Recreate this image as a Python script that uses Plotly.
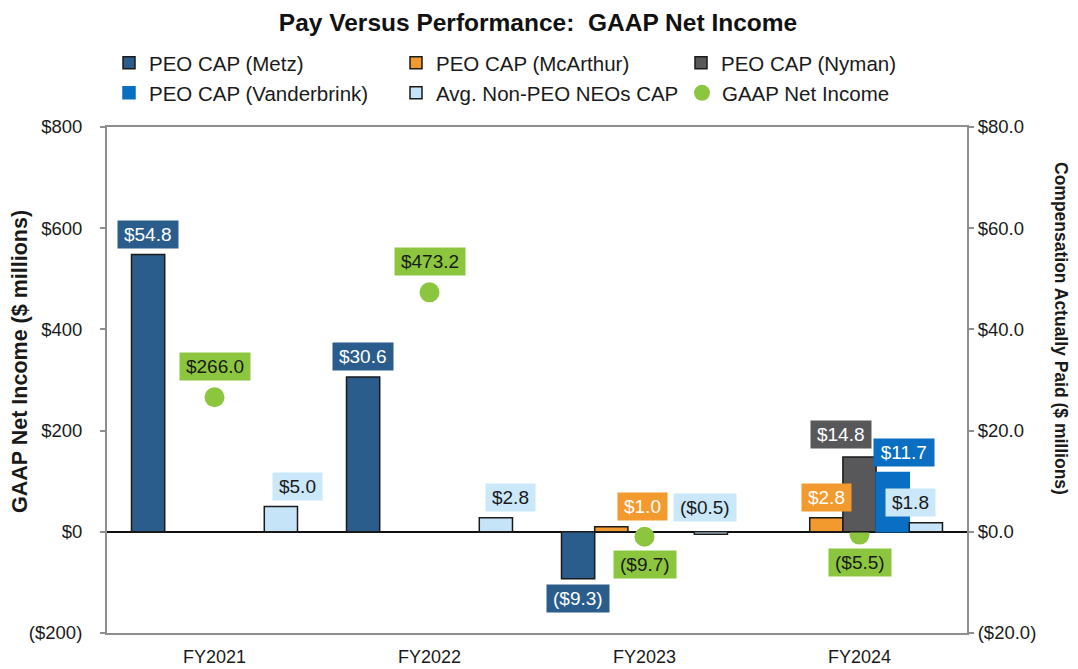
import plotly.graph_objects as go

# ---------------- data ----------------
categories = ["FY2021", "FY2022", "FY2023", "FY2024"]
cap_metz = [54.8, 30.6, -9.3, None]
cap_mcarthur = [None, None, 1.0, 2.8]
cap_nyman = [None, None, None, 14.8]
cap_vanderbrink = [None, None, None, 11.7]
cap_non_peo = [5.0, 2.8, -0.5, 1.8]
gaap_net_income = [266.0, 473.2, -9.7, -5.5]

left_tick_values = [-200, 0, 200, 400, 600, 800]
right_tick_values = [-20, 0, 20, 40, 60, 80]

# ---------------- styling ----------------
FONT = "Liberation Sans, Arial, sans-serif"
BODY = 8                      # default page margin around the plot div
W, H = 1078 - BODY, 669 - BODY
# plot area in page pixels
PX0, PX1, PY0, PY1 = 107, 967, 127, 633
ML, MR = PX0 - BODY, W - (PX1 - BODY)
MT, MB = PY0 - BODY, H - (PY1 - BODY)
PW, PH = PX1 - PX0, PY1 - PY0
BARGAP = 0.228
LABEL_SIZE = 19


def paper_x(px):
    return (px - PX0) / PW


def paper_y(py):
    return (PY1 - py) / PH


def money(v, decimals):
    s = f"${abs(v):,.{decimals}f}"
    return f"({s})" if v < 0 else s


def text_px(s, size):
    widths = {".": 0.278, "(": 0.333, ")": 0.333, ",": 0.278}
    return sum(widths.get(c, 0.556) for c in s) * size


bar_series = [
    dict(name="PEO CAP (Metz)", values=cap_metz, fill="#2A5D8C", line="#1A1A1A",
         label_bg="#2A5D8C", label_fg="white",
         shifts=[(0, 0), (0, 0), (0, 0), (0, 0)]),
    dict(name="PEO CAP (McArthur)", values=cap_mcarthur, fill="#F39A2E", line="#1A1A1A",
         label_bg="#F39A2E", label_fg="white",
         shifts=[(0, 0), (0, 0), (31, 0), (0, 0)]),
    dict(name="PEO CAP (Nyman)", values=cap_nyman, fill="#58585B", line="#1A1A1A",
         label_bg="#58585B", label_fg="white",
         shifts=[(0, 0), (0, 0), (0, 0), (-19, 2)]),
    dict(name="PEO CAP (Vanderbrink)", values=cap_vanderbrink, fill="#0A6FC2", line="#0A6FC2",
         label_bg="#0A6FC2", label_fg="white",
         shifts=[(0, 0), (0, 0), (0, 0), (11, 0)]),
    dict(name="Avg. Non-PEO NEOs CAP", values=cap_non_peo, fill="#C6E4F8", line="#1A1A1A",
         label_bg="#CBE7FA", label_fg="#1A1A1A",
         shifts=[(17, 0), (15, 0), (-6, 0), (-15, 0)]),
]
gaap_style = dict(color="#8CC63F", label_bg="#8CC63F", label_fg="#1A1A1A")

fig = go.Figure()

legend_pos = [  # (text start, row centre) of each legend entry, page pixels
    (147, 63), (434, 63), (719, 63),
    (147, 93), (434, 93), (720, 93),
]
legend_keys = ["legend", "legend2", "legend3", "legend4", "legend5", "legend6"]

for k, s in enumerate(bar_series):
    fig.add_trace(go.Bar(
        x=categories, y=s["values"], name=s["name"], yaxis="y2",
        marker=dict(color=s["fill"], line=dict(color=s["line"], width=1.5)),
        legend=legend_keys[k], hoverinfo="name+y",
    ))

fig.add_trace(go.Scatter(
    x=categories, y=gaap_net_income, name="GAAP Net Income", mode="markers",
    marker=dict(color=gaap_style["color"], size=20), yaxis="y",
    legend=legend_keys[5],
))

# ---------------- data labels ----------------
n = len(bar_series)
group_w = 1 - BARGAP
slot_w = group_w / n
annotations = []
for k, s in enumerate(bar_series):
    offset = -group_w / 2 + (k + 0.5) * slot_w
    for i, v in enumerate(s["values"]):
        if v is None:
            continue
        txt = money(v, 1)
        dx, dy = s["shifts"][i]
        if s["name"].startswith("Avg") and v < 0 and abs(v) < 1:
            yshift = 27
        else:
            yshift = 20 if v >= 0 else -20
        annotations.append(dict(
            x=i + offset, y=v, xref="x", yref="y2", text=txt, showarrow=False,
            xshift=dx, yshift=yshift + dy,
            bgcolor=s["label_bg"], font=dict(color=s["label_fg"], size=LABEL_SIZE, family=FONT),
            width=text_px(txt, LABEL_SIZE) + 12, height=27, borderpad=0,
        ))
for i, v in enumerate(gaap_net_income):
    txt = money(v, 1)
    annotations.append(dict(
        x=i, y=v, xref="x", yref="y", text=txt, showarrow=False,
        yshift=31 if v >= 0 else -28,
        bgcolor=gaap_style["label_bg"], font=dict(color=gaap_style["label_fg"], size=LABEL_SIZE, family=FONT),
        width=text_px(txt, LABEL_SIZE) + 12, height=27, borderpad=0,
    ))

# axis titles
annotations.append(dict(
    text="GAAP Net Income ($ millions)", xref="paper", yref="paper",
    x=paper_x(20), y=paper_y(362), xanchor="center", yanchor="middle",
    showarrow=False, textangle=-90,
    font=dict(size=21.5, family=FONT, color="#1A1A1A", weight="bold"),
))
annotations.append(dict(
    text="Compensation Actually Paid ($ millions)", xref="paper", yref="paper",
    x=paper_x(1061), y=paper_y(328), xanchor="center", yanchor="middle",
    showarrow=False, textangle=90,
    font=dict(size=17.5, family=FONT, color="#1A1A1A", weight="bold"),
))

layout_legends = {}
for key, (tx, ty) in zip(legend_keys, legend_pos):
    layout_legends[key] = dict(
        x=paper_x(tx - 38), y=paper_y(ty), xanchor="left", yanchor="middle",
        orientation="h", bgcolor="rgba(0,0,0,0)", font=dict(size=20.5, family=FONT, color="#1A1A1A"),
        itemclick=False, itemdoubleclick=False,
    )

GRID_GREY = "#8F8F8F"
fig.update_layout(
    width=W, height=H,
    margin=dict(l=ML, r=MR, t=MT, b=MB, autoexpand=False),
    paper_bgcolor="white", plot_bgcolor="white",
    showlegend=True,
    font=dict(family=FONT, size=18, color="#1A1A1A"),
    title=dict(text="Pay Versus Performance:\u00a0 GAAP Net Income",
               x=(538 - BODY) / W, y=1 - (22 - BODY) / H,
               xanchor="center", yanchor="middle", xref="container", yref="container",
               font=dict(size=24.5, family=FONT, color="#111111", weight="bold")),
    barmode="group", bargap=BARGAP, bargroupgap=0,
    xaxis=dict(
        type="category", range=[-0.5, len(categories) - 0.5], showgrid=False, zeroline=False,
        showline=True, mirror=True, linecolor=GRID_GREY, linewidth=2, ticks="",
        ticklabelstandoff=6, automargin=False,
        tickfont=dict(size=18, family=FONT, color="#1A1A1A"),
    ),
    xaxis2=dict(
        overlaying="x", anchor="free", automargin=False,
        position=(0 - left_tick_values[0]) / (left_tick_values[-1] - left_tick_values[0]),
        range=[-0.5, len(categories) - 0.5],
        tickvals=[i - 0.5 for i in range(len(categories) + 1)],
        showticklabels=False, ticks="outside", ticklen=6, tickwidth=2, tickcolor="#111111",
        showline=False, showgrid=False, zeroline=False,
    ),
    yaxis=dict(
        range=[left_tick_values[0], left_tick_values[-1]], tickvals=left_tick_values,
        ticktext=[money(v, 0) for v in left_tick_values], automargin=False,
        showgrid=False, zeroline=True, zerolinecolor="#111111", zerolinewidth=2,
        showline=True, linecolor=GRID_GREY, linewidth=2,
        ticks="outside", ticklen=5, tickcolor=GRID_GREY, tickwidth=2,
        ticklabelstandoff=14, tickfont=dict(size=18.5, family=FONT, color="#1A1A1A"),
    ),
    yaxis2=dict(
        overlaying="y", side="right", automargin=False,
        range=[right_tick_values[0], right_tick_values[-1]], tickvals=right_tick_values,
        ticktext=[money(v, 1) for v in right_tick_values],
        showgrid=False, zeroline=False,
        showline=True, linecolor=GRID_GREY, linewidth=2,
        ticks="outside", ticklen=5, tickcolor=GRID_GREY, tickwidth=2,
        tickfont=dict(size=18.5, family=FONT, color="#1A1A1A"),
    ),
    annotations=annotations,
    **layout_legends,
)

fig.write_html("out.html")
